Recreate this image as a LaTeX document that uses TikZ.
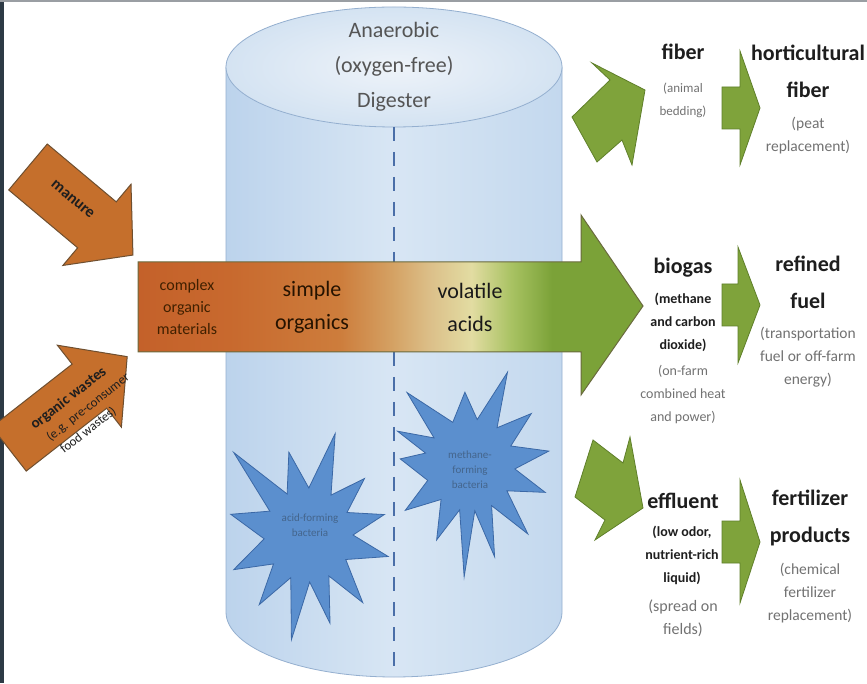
\documentclass[tikz,border=0pt]{standalone}
\usepackage{fontspec}
\setmainfont{Carlito}
\usetikzlibrary{calc}

% palette
\definecolor{framedark}{HTML}{2D3A45}
\definecolor{framegray}{HTML}{9A9EA3}
\definecolor{cylL}{HTML}{BCD3EC}
\definecolor{cylM}{HTML}{D8E6F4}
\definecolor{cylR}{HTML}{C3D8EE}
\definecolor{cylEdge}{HTML}{94AFCF}
\definecolor{topIn}{HTML}{EEF3F9}
\definecolor{topOut}{HTML}{D4E3F2}
\definecolor{dashblue}{HTML}{4A6FA8}
\definecolor{starfill}{HTML}{5B8FCE}
\definecolor{staredge}{HTML}{3B68A6}
\definecolor{startext}{HTML}{44658C}
\definecolor{orangefill}{HTML}{C56F2C}
\definecolor{orangeedge}{HTML}{6E4F30}
\definecolor{greenfill}{HTML}{7FA33B}
\definecolor{greenedge}{HTML}{5F7F2A}
\definecolor{arrowedge}{HTML}{6A6A3E}
\definecolor{headtext}{HTML}{1E1E1E}
\definecolor{subgray}{HTML}{727272}
\definecolor{titlegray}{HTML}{555555}
\definecolor{flowA}{HTML}{C4612A}
\definecolor{flowB}{HTML}{C8692E}
\definecolor{flowC}{HTML}{CD7D3C}
\definecolor{flowD}{HTML}{D4A062}
\definecolor{flowE}{HTML}{DCC08A}
\definecolor{flowF}{HTML}{E2DCA2}
\definecolor{flowG}{HTML}{A8C262}
\definecolor{flowH}{HTML}{7BA238}

% colour run along the main process arrow (box edges sit at 25bp and 75bp)
\pgfdeclarehorizontalshading{flowshade}{100bp}{color(0bp)=(flowA); color(25bp)=(flowA); color(34bp)=(flowB); color(45bp)=(flowC); color(50bp)=(flowD); color(54bp)=(flowE); color(58bp)=(flowF); color(62bp)=(flowG); color(66bp)=(flowH); color(100bp)=(flowH)}

\tikzset{
  title/.style={text=titlegray, align=center, font=\fontsize{22}{35}\selectfont},
  head/.style={text=headtext, align=center, font=\bfseries\fontsize{22}{37}\selectfont},
  subnote/.style={text=subgray, align=center, font=\fontsize{#1}{23}\selectfont},
  subnote/.default=13.5,
  subbold/.style={text=headtext, align=center, font=\bfseries\fontsize{14}{23}\selectfont},
  flowtext/.style={text=#1, align=center, font=\fontsize{22}{33}\selectfont},
  smallflow/.style={text=#1, align=center, font=\fontsize{16}{22}\selectfont},
  startag/.style={text=startext, align=center, font=\fontsize{11}{15}\selectfont},
  blockgreen/.style={fill=greenfill, draw=greenedge, line width=0.8},
  blockorange/.style={fill=orangefill, draw=orangeedge, line width=1},
  germ/.style={fill=starfill, draw=staredge, line width=0.8},
  dashline/.style={draw=dashblue, line width=1.6, dash pattern=on 14pt off 11pt},
  slanted/.style={text=headtext, rotate=38, font=\fontsize{13}{15}\selectfont},
}

\begin{document}
\begin{tikzpicture}[x=1pt,y=1pt]
\useasboundingbox (0,0) rectangle (867,683);
\fill[white] (0,0) rectangle (867,683);
\fill[framedark] (0,0) rectangle (4,683);
\fill[framegray] (0,680.5) rectangle (867,683);

% ---- digester tank ----
\shade[left color=cylL, right color=cylR, middle color=cylM, draw=cylEdge, line width=0.8]
  (226,616) -- (226,71) arc[start angle=180, end angle=360, x radius=168, y radius=65]
  -- (562,616) -- cycle;
\shade[inner color=topIn, outer color=topOut, draw=cylEdge, line width=0.8]
  (394,616) ellipse[x radius=168, y radius=60];
\draw[dashline] (394,556) -- (394,6);
\node[title] (tank) at (394,616) {Anaerobic\\(oxygen-free)\\Digester};

% ---- bacteria ----
\filldraw[germ] (308,148)
  +(15:79) -- +(30:45) -- +(45:80) -- +(60:46) -- +(75:105) -- +(89:47)
  -- +(103:85) -- +(117:46) -- +(132:111) -- +(148:45) -- +(165:80) -- +(185:44)
  -- +(-155:82) -- +(-140:45) -- +(-125:85) -- +(-112:46) -- +(-99:106) -- +(-88:47)
  -- +(-76:91) -- +(-63:46) -- +(-51:87) -- +(-33:45) -- +(-15:83) -- +(0:45) -- cycle;
\node[startag] (acidbac) at (310,158) {acid-forming\\bacteria};

\filldraw[germ] (470,218)
  +(10:80) -- +(25:45) -- +(40:80) -- +(54:46) -- +(68:100) -- +(81:46)
  -- +(94:73) -- +(112:46) -- +(131:96) -- +(143:45) -- +(155:80) -- +(165:46)
  -- +(175:70) -- +(-160:45) -- +(-145:79) -- +(-130:45) -- +(-114:82) -- +(-103:46)
  -- +(-93:112) -- +(-84:46) -- +(-75:95) -- +(-62:46) -- +(-50:90) -- +(-35:45)
  -- +(-20:80) -- +(-5:45) -- cycle;
\node[startag] (methbac) at (470,213) {methane-\\forming\\bacteria};

% ---- incoming feedstocks ----
\begin{scope}[shift={(28,516)}, rotate=-40]
  \draw[blockorange] (0,-30) -- (90,-30) -- (90,-53) -- (137,0) -- (90,53) -- (90,30) -- (0,30) -- cycle;
  \node[text=headtext, font=\bfseries\fontsize{16}{18}\selectfont, rotate=-40] (manure) at (55,4) {manure};
\end{scope}

\begin{scope}[shift={(9,234)}, rotate=38]
  \draw[blockorange] (0,-28) -- (102,-28) -- (102,-52) -- (150,0) -- (102,52) -- (102,28) -- (0,28) -- cycle;
  \node[slanted, font=\bfseries\fontsize{15}{17}\selectfont] (wastes) at (78,3) {organic wastes};
  \node[slanted] (eg) at (88,-16) {(e.g. pre-consumer};
  \node[slanted] (food) at (74,-34) {food wastes)};
\end{scope}

% ---- main process arrow ----
\shade[shading=flowshade, draw=arrowedge, line width=1]
  (138,421) -- (581,421) -- (581,468) -- (643,377) -- (581,288) -- (581,331) -- (138,331) -- cycle;
\node[smallflow=black!75!orange] (complex) at (187,376) {complex\\organic\\materials};
\node[flowtext=black!85!orange] (simple) at (312,376) {simple\\organics};
\node[flowtext=black!90] (acids) at (470,376) {volatile\\acids};

% ---- outputs: fibre ----
\draw[blockgreen] (572,566) -- (610,603) -- (592,620) -- (645,593) -- (632,518) -- (622,543) -- (597,521) -- cycle;
\node[head] (fiber) at (683,631) {fiber};
\node[subnote=13] (bedding) at (683,583) {(animal\\bedding)};
\draw[blockgreen] (722,596) -- (740,596) -- (740,632) -- (760,575) -- (740,518) -- (740,554) -- (722,554) -- cycle;
\node[head] (hort) at (808,612) {horticultural\\fiber};
\node[subnote=15.5] (peat) at (808,547) {(peat\\replacement)};

% ---- outputs: biogas ----
\node[head] (biogas) at (683,415) {biogas};
\node[subbold] (gasmix) at (683,361) {(methane\\and carbon\\dioxide)};
\node[subnote=14] (chp) at (683,288) {(on-farm\\combined heat\\and power)};
\draw[blockgreen] (722,399) -- (738,399) -- (738,436) -- (760,378) -- (738,320) -- (738,357) -- (722,357) -- cycle;
\node[head] (fuel) at (808,401) {refined\\fuel};
\node[subnote=15.5] (transport) at (808,326) {(transportation\\fuel or off-farm\\energy)};

% ---- outputs: effluent ----
\draw[blockgreen] (593,243) -- (623,220) -- (630,246) -- (643,175) -- (595,143) -- (605,163) -- (575,186) -- cycle;
\node[head] (effluent) at (683,182) {effluent};
\node[subbold] (liquid) at (682,128) {(low odor,\\nutrient-rich\\liquid)};
\node[subnote=16] (fields) at (683,65) {(spread on\\fields)};
\draw[blockgreen] (722,162) -- (740,162) -- (740,203) -- (760,141) -- (740,80) -- (740,120) -- (722,120) -- cycle;
\node[head] (fert) at (810,165) {fertilizer\\products};
\node[subnote=15.5] (chem) at (810,90) {(chemical\\fertilizer\\replacement)};
\end{tikzpicture}
\end{document}
